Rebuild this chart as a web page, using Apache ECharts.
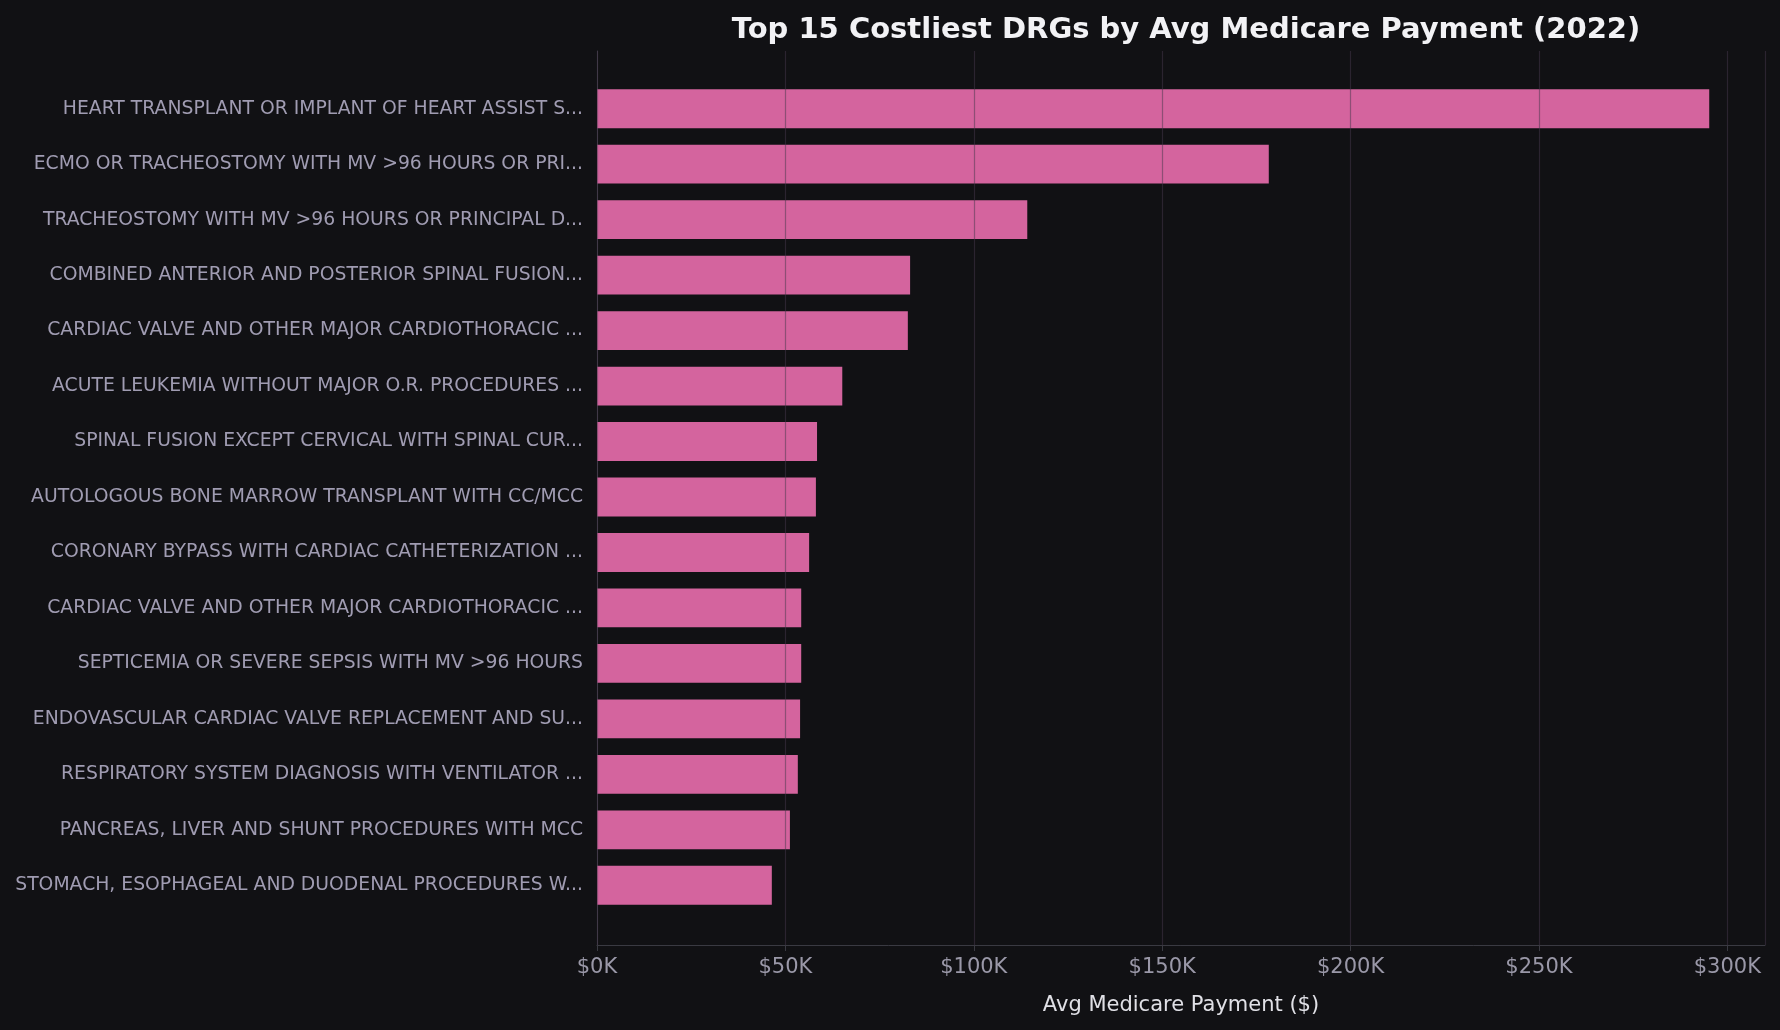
<!DOCTYPE html>
<html><head><meta charset="utf-8">
<script src="https://cdn.jsdelivr.net/npm/echarts@6/dist/echarts.min.js"></script>
<style>html,body{margin:0;background:#111114}#c{width:1780px;height:1030px}</style>
</head><body><div id="c"></div>
<script>
const categories = [
"HEART TRANSPLANT OR IMPLANT OF HEART ASSIST S...",
"ECMO OR TRACHEOSTOMY WITH MV >96 HOURS OR PRI...",
"TRACHEOSTOMY WITH MV >96 HOURS OR PRINCIPAL D...",
"COMBINED ANTERIOR AND POSTERIOR SPINAL FUSION...",
"CARDIAC VALVE AND OTHER MAJOR CARDIOTHORACIC ...",
"ACUTE LEUKEMIA WITHOUT MAJOR O.R. PROCEDURES ...",
"SPINAL FUSION EXCEPT CERVICAL WITH SPINAL CUR...",
"AUTOLOGOUS BONE MARROW TRANSPLANT WITH CC/MCC",
"CORONARY BYPASS WITH CARDIAC CATHETERIZATION ...",
"CARDIAC VALVE AND OTHER MAJOR CARDIOTHORACIC ...",
"SEPTICEMIA OR SEVERE SEPSIS WITH MV >96 HOURS",
"ENDOVASCULAR CARDIAC VALVE REPLACEMENT AND SU...",
"RESPIRATORY SYSTEM DIAGNOSIS WITH VENTILATOR ...",
"PANCREAS, LIVER AND SHUNT PROCEDURES WITH MCC",
"STOMACH, ESOPHAGEAL AND DUODENAL PROCEDURES W..."
];
const payments = [295200,178300,114200,83100,82500,65100,58400,58100,56300,54200,54200,53900,53300,51200,46400];
const chart = echarts.init(document.getElementById('c'));
chart.setOption({
  backgroundColor:'#111114',
  title:{text:'Top 15 Costliest DRGs by Avg Medicare Payment (2022)',left:1181,top:11,textAlign:'center',
    textStyle:{color:'#f2f2f5',fontSize:29,fontWeight:'bold',fontFamily:'DejaVu Sans'}},
  grid:[{left:597,right:15,top:81,bottom:117},{left:597,right:15,top:51,bottom:85}],
  xAxis:[
   {type:'value',gridIndex:0,min:0,max:310000,interval:50000,show:false,splitLine:{show:false}},
   {type:'value',gridIndex:1,min:0,max:310000,interval:50000,z:5,
    name:'Avg Medicare Payment ($)',nameLocation:'middle',nameGap:50,
    nameTextStyle:{color:'#e0e0e6',fontSize:21,fontFamily:'DejaVu Sans'},
    axisLine:{show:true,lineStyle:{color:'#3a3a42'}},
    axisTick:{show:true,length:6,lineStyle:{color:'#3a3a42'}},
    axisLabel:{color:'#9a98a8',fontSize:21,fontFamily:'DejaVu Sans',margin:12,
      formatter:v=>'$'+(v/1000)+'K'},
    splitLine:{show:true,lineStyle:{color:'rgba(70,55,75,0.5)',width:1.2}}}],
  yAxis:[
   {type:'category',gridIndex:0,data:categories,inverse:true,
    axisLine:{show:false},axisTick:{show:false},
    axisLabel:{color:'#a09cb2',fontSize:18.8,fontFamily:'DejaVu Sans',margin:14},
    splitLine:{show:false}},
   {type:'value',gridIndex:1,min:0,max:1,axisLabel:{show:false},axisTick:{show:false},
    splitLine:{show:false},axisLine:{show:true,lineStyle:{color:'#3a3a42'}}}],
  series:[{type:'bar',xAxisIndex:0,yAxisIndex:0,data:payments,barCategoryGap:'30%',
    itemStyle:{color:'#d4649e'}}]
});
</script></body></html>
